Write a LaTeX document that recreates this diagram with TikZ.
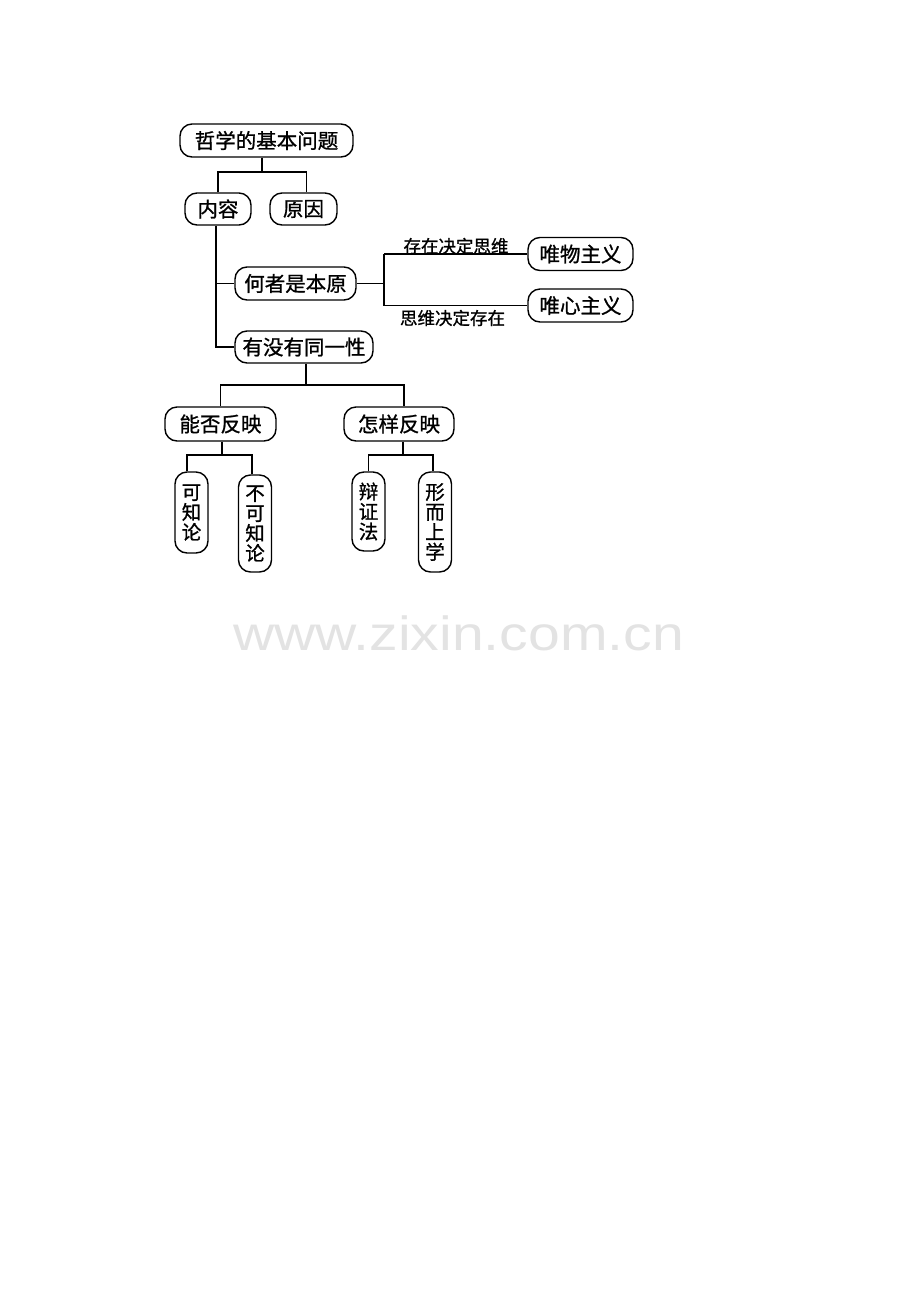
\documentclass[tikz,border=0pt]{standalone}
\usepackage{fontspec}
\newfontfamily\cjk[FakeBold=1]{Noto Sans CJK SC}
\newfontfamily\wmfont{Liberation Sans}
\tikzset{
  box/.style={draw, line width=1.4pt, rounded corners=12pt, inner sep=0pt,
    minimum height=33pt, font=\cjk\fontsize{20.5}{20.5}\selectfont},
  vbox/.style={draw, line width=1.4pt, rounded corners=12pt, inner sep=0pt,
    minimum width=33pt, align=center, font=\cjk\fontsize{19.5}{20}\selectfont},
  conn/.style={line width=1.4pt},
  lbl/.style={inner sep=0pt, font=\cjk\fontsize{17.5}{17.5}\selectfont}
}
\begin{document}
\begin{tikzpicture}[x=1pt,y=-1pt]
\useasboundingbox (0,0) rectangle (920,1302);
\fill[white] (0,0) rectangle (920,1302);
% nodes
\node[box, minimum width=173pt] (top) at (266.5,140.5) {哲学的基本问题};
\node[box, minimum width=66pt, minimum height=32pt] (nr) at (218,209) {内容};
\node[box, minimum width=67pt, minimum height=32pt] (yy) at (303.5,209) {原因};
\node[box, minimum width=121pt] (hz) at (295.5,283.5) {何者是本原};
\node[box, minimum width=105pt] (wm) at (580.5,254) {唯物主义};
\node[box, minimum width=105pt] (wx) at (580.5,305.5) {唯心主义};
\node[box, minimum width=138pt, minimum height=32pt] (ty) at (304,347) {有没有同一性};
\node[box, minimum width=111pt, minimum height=34pt] (nf) at (220.5,424) {能否反映};
\node[box, minimum width=110pt, minimum height=34pt] (zy) at (399,424) {怎样反映};
\node[vbox, minimum height=81pt] (kz) at (191.5,512.5) {可\\知\\论};
\node[vbox, minimum height=97pt] (bk) at (255,523.5) {不\\可\\知\\论};
\node[vbox, minimum height=79pt] (bz) at (368.5,511.5) {辩\\证\\法};
\node[vbox, minimum height=100pt] (xs) at (435,522) {形\\而\\上\\学};
% labels
\node[lbl] (l1) at (456,246) {存在决定思维};
\node[lbl] (l2) at (452.5,318) {思维决定存在};
% junctions
\coordinate (j1) at (262,172);
\coordinate (j2) at (384,283.5);
\coordinate (j3) at (306,385);
\coordinate (j4) at (222,455);
\coordinate (j5) at (403,455);
% connectors
\draw[conn] (top.south -| j1) -- (j1);
\draw[conn] (nr.north) |- (j1) -| ([xshift=3pt]yy.north);
\draw[conn] ([xshift=-2pt]nr.south) -- ([xshift=-2pt]nr.south |- ty.west) -- (ty.west);
\draw[conn] ([xshift=-2pt]nr.south |- hz.west) -- (hz.west);
\draw[conn] (hz.east) -- (j2);
\draw[conn] (j2 |- wm.west) -- (j2 |- wx.west);
\draw[conn] (j2 |- wm.west) -- (wm.west);
\draw[conn] (j2 |- wx.west) -- (wx.west);
\draw[conn] (ty.south -| j3) -- (j3);
\draw[conn] (nf.north) |- (j3) -| ([xshift=5pt]zy.north);
\draw[conn] (nf.south -| j4) -- (j4);
\draw[conn] ([xshift=-4.5pt]kz.north) |- (j4) -| ([xshift=-3pt]bk.north);
\draw[conn] (zy.south -| j5) -- (j5);
\draw[conn] (bz.north) |- (j5) -| ([xshift=-2pt]xs.north);
% watermark
\node[anchor=base west, inner sep=0pt, text=black!11, font=\wmfont\fontsize{48}{48}\selectfont] (wmk) at (233,650) {\scalebox{1.19}[1]{www.zixin.com.cn}};
\end{tikzpicture}
\end{document}
